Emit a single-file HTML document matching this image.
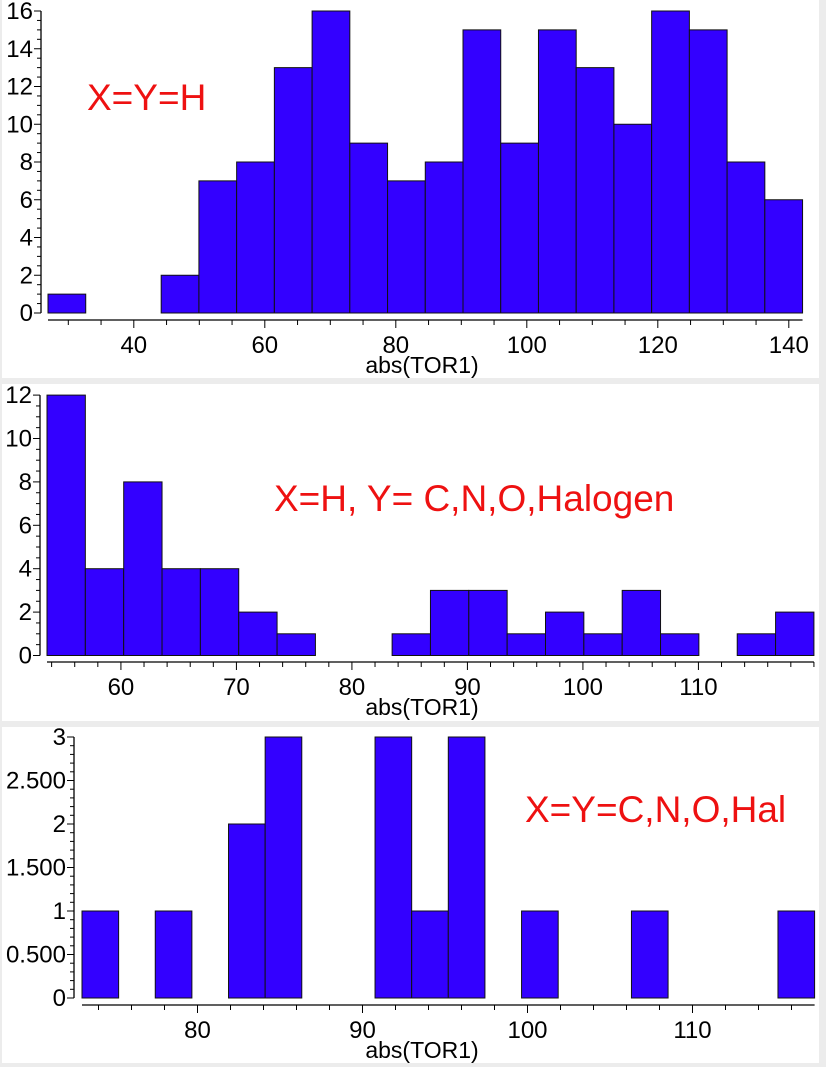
<!DOCTYPE html>
<html><head><meta charset="utf-8"><style>
body{margin:0;background:#ececec;width:826px;height:1067px;overflow:hidden;font-family:"Liberation Sans",sans-serif}
svg{position:absolute;left:0;top:0}
text{font-family:"Liberation Sans",sans-serif}
.tl{font-size:24px}
.at{font-size:23px}
.an{font-size:37px}
</style></head><body>
<svg id="c" width="826" height="1067"></svg>
<script>
// Panel 1 data (X=Y=H)
const counts1 = [1,0,0,2,7,8,13,16,9,7,8,15,9,15,13,10,16,15,8,6];
const xStart1 = 26.9, binW1 = 5.76;
const xTicks1 = [40,60,80,100,120,140];
const yTicks1 = [0,2,4,6,8,10,12,14,16];
// Panel 2 data (X=H, Y=C,N,O,Halogen)
const counts2 = [12,4,8,4,4,2,1,0,0,1,3,3,1,2,1,3,1,0,1,2];
const xStart2 = 53.6, binW2 = 3.32;
const xTicks2 = [60,70,80,90,100,110];
const yTicks2 = [0,2,4,6,8,10,12];
// Panel 3 data (X=Y=C,N,O,Hal)
const counts3 = [1,0,1,0,2,3,0,0,3,1,3,0,1,0,0,1,0,0,0,1];
const xStart3 = 73.0, binW3 = 2.22;
const xTicks3 = [80,90,100,110];
const yTicks3 = [0,0.5,1,1.5,2,2.5,3];
const yTickLabels3 = ["0","0.500","1","1.500","2","2.500","3"];

const svg = document.getElementById('c');
const NS = 'http://www.w3.org/2000/svg';
function mk(tag, attrs, parent){const e=document.createElementNS(NS,tag);for(const k in attrs)e.setAttribute(k,attrs[k]);(parent||svg).appendChild(e);return e;}

function panel(p){
  const g = mk('g',{});
  
  
  const bg = mk('rect',{x:2,y:p.top,width:817,height:p.h,fill:'#fff'},g);
  
  
  const xs = v => p.x0px + (v - p.xStart) * p.xpx;
  const ys = v => p.y0px - v * p.ypx;
  const xEnd = p.xStart + p.counts.length * p.binW;
  p.counts.forEach((c,i)=>{
    if(c<=0) return;
    const x1 = xs(p.xStart + i*p.binW), x2 = xs(p.xStart + (i+1)*p.binW);
    const r = mk('rect',{x:x1,y:ys(c),width:x2-x1,height:ys(0)-ys(c),fill:'#3300ff',stroke:'#111','stroke-width':1},g);
    
    
  });
  const yTop = ys(p.yTicks[p.yTicks.length-1]);
  const ya = mk('line',{x1:p.axX,x2:p.axX,y1:yTop,y2:ys(0),stroke:'#000','stroke-width':1.3},g);
  
  
  const yMax = p.yTicks[p.yTicks.length-1];
  for(let v=0; v<=yMax+1e-9; v+=p.yMinor){
    const major = p.yTicks.some(t=>Math.abs(t-v)<1e-6);
    mk('line',{x1:p.axX-(major?7:4),x2:p.axX,y1:ys(v),y2:ys(v),stroke:'#000','stroke-width':1},g);
  }
  p.yTicks.forEach((t,i)=>{
    const tx = mk('text',{x:p.axX-8,y:ys(t)+8,'text-anchor':'end','class':'tl',fill:'#000'},g);
    tx.textContent = p.yLabels ? p.yLabels[i] : String(t);
    
    
  });
  const xa = mk('line',{x1:xs(p.xStart),x2:xs(xEnd),y1:p.axY,y2:p.axY,stroke:'#000','stroke-width':1.3},g);
  
  
  const m0 = Math.ceil(p.xStart/p.xMinor)*p.xMinor;
  for(let v=m0; v<=xEnd+1e-9; v+=p.xMinor){
    const major = p.xTicks.some(t=>Math.abs(t-v)<1e-6);
    mk('line',{x1:xs(v),x2:xs(v),y1:p.axY,y2:p.axY+(major?8:5),stroke:'#000','stroke-width':1},g);
  }
  p.xTicks.forEach(t=>{
    const tx = mk('text',{x:xs(t),y:p.axY+33,'text-anchor':'middle','class':'tl',fill:'#000'},g);
    tx.textContent = String(t);
    
    
  });
  const xt = mk('text',{x:422,y:p.axY+53,'text-anchor':'middle','class':'at',fill:'#000'},g);
  xt.textContent = 'abs(TOR1)';
  
  
  const an = mk('text',{x:p.annX,y:p.annY,'class':'an',fill:'#ee1111'},g);
  an.textContent = p.ann;
  
  
}

panel({name:'panel-x-y-h',top:0,h:378,counts:counts1,xStart:xStart1,binW:binW1,xTicks:xTicks1,yTicks:yTicks1,
  x0px:48,xpx:6.55,y0px:313,ypx:18.875,axX:41,axY:320,yMinor:0.5,xMinor:5,ann:'X=Y=H',annX:87,annY:110});
panel({name:'panel-x-h-y-cnohal',top:384,h:337,counts:counts2,xStart:xStart2,binW:binW2,xTicks:xTicks2,yTicks:yTicks2,
  x0px:47,xpx:11.55,y0px:655.5,ypx:21.7,axX:40,axY:662,yMinor:0.5,xMinor:2,ann:'X=H, Y= C,N,O,Halogen',annX:274,annY:511});
panel({name:'panel-x-y-cnohal',top:727,h:336,counts:counts3,xStart:xStart3,binW:binW3,xTicks:xTicks3,yTicks:yTicks3,yLabels:yTickLabels3,
  x0px:82,xpx:16.5,y0px:998,ypx:87,axX:74,axY:1005,yMinor:0.1,xMinor:2,ann:'X=Y=C,N,O,Hal',annX:525,annY:822});
</script>
</body></html>
